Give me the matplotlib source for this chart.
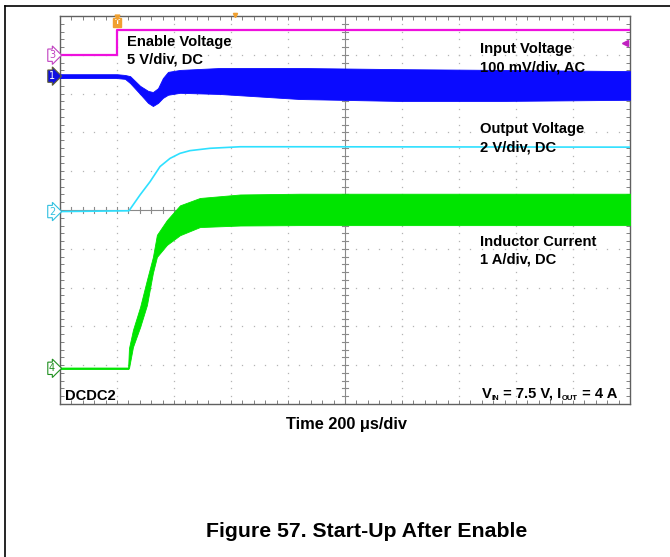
import matplotlib
matplotlib.use('Agg')
import matplotlib.pyplot as plt
import numpy as np
from matplotlib.lines import Line2D

plt.rcParams['font.family'] = ['Liberation Sans', 'DejaVu Sans']

W, H, DPI = 670, 557, 100

# ---------------- data (time in us, trace position in screen divisions) ----------------
enable_t = [-200, 0, 0, 1800]
enable_y = [8.99, 8.99, 9.64, 9.64]

vin_t  = [-200, 0, 28, 46, 81, 109, 126, 144, 161, 179, 221, 361, 642, 993, 1344, 1800]
vin_hi = [8.50, 8.50, 8.48, 8.45, 8.20, 8.07, 8.04, 8.14, 8.40, 8.56, 8.61, 8.66, 8.66, 8.63, 8.61, 8.58]
vin_lo = [8.40, 8.40, 8.38, 8.27, 7.99, 7.76, 7.68, 7.76, 7.89, 7.97, 8.02, 7.99, 7.86, 7.81, 7.81, 7.84]

vout_t = [-200, 42, 81, 116, 151, 186, 221, 256, 326, 432, 642, 1800]
vout_y = [4.96, 4.98, 5.39, 5.73, 6.12, 6.33, 6.46, 6.53, 6.59, 6.63, 6.63, 6.62]

il_t  = [-200, 39, 42, 56, 81, 105, 126, 140, 175, 221, 291, 432, 642, 1800]
il_hi = [0.94, 0.94, 1.44, 1.91, 2.50, 3.20, 3.79, 4.36, 4.74, 5.12, 5.31, 5.40, 5.42, 5.42]
il_lo = [0.90, 0.90, 0.92, 1.47, 1.98, 2.55, 3.38, 3.79, 4.10, 4.35, 4.56, 4.60, 4.61, 4.61]

channel_ids = ['3', '1', '2', '4']
channel_pos = [8.99, 8.45, 4.96, 0.92]

# ---------------- figure ----------------
fig = plt.figure(figsize=(W / DPI, H / DPI), dpi=DPI)
L, R, T, B = 60, 630, 16, 404
ax = fig.add_axes([L / W, 1 - B / H, (R - L) / W, (B - T) / H])
ax.set_xlim(-200, 1800)
ax.set_ylim(0, 10)

BLUE = '#0a0aff'
CYAN = '#2ee0ff'
GREEN = '#00e400'
MAG = '#ee10dd'
GRID = '#b4b4b4'

# graticule dots
gx = np.arange(-200, 1801, 40)
gy = np.arange(0, 10.01, 0.2)
for i in range(1, 10):
    if i == 5:
        continue
    xv = -200 + 200 * i
    ax.plot(np.full_like(gy, xv), gy, ls='none', marker='s', ms=0.9, mew=0, color=GRID, zorder=1)
    ax.plot(gx, np.full_like(gx, i, dtype=float), ls='none', marker='s', ms=0.9, mew=0, color=GRID, zorder=1)
# center cross with ticks
ax.axvline(800, color='#8a8a8a', lw=0.8, zorder=1)
ax.axhline(5, color='#8a8a8a', lw=0.8, zorder=1)
dy = 3 / 38.8
dx = 3 * 200 / 57
for xv in gx:
    ax.plot([xv, xv], [5 - dy, 5 + dy], color='#8a8a8a', lw=0.8, zorder=1)
for yv in gy:
    ax.plot([800 - dx, 800 + dx], [yv, yv], color='#8a8a8a', lw=0.8, zorder=1)

# traces
ax.plot(enable_t, enable_y, color=MAG, lw=1.6, zorder=3)
ax.fill_between(vin_t, vin_lo, vin_hi, color=BLUE, lw=0.6, zorder=3)
ax.fill_between(il_t, il_lo, il_hi, color=GREEN, lw=0.6, zorder=3)
ax.plot(vout_t, vout_y, color=CYAN, lw=1.2, zorder=4)

# frame ticks
ax.set_xticks([])
ax.set_yticks([])
ax.set_xticks(gx, minor=True)
ax.set_yticks(gy, minor=True)
ax.tick_params(which='minor', direction='in', length=3, width=0.7, color='#808080',
               top=True, right=True, bottom=True, left=True,
               labelbottom=False, labelleft=False)
for s in ax.spines.values():
    s.set_color('#606060')
    s.set_linewidth(1.0)

# channel markers
styles = {
    '3': dict(fc='white', ec='#c040c0', tc='#c040c0'),
    '1': dict(fc='#1010e0', ec='#606030', tc='white'),
    '2': dict(fc='white', ec='#30c0e0', tc='#30c0e0'),
    '4': dict(fc='white', ec='#209020', tc='#209020'),
}
for cid, yv in zip(channel_ids, channel_pos):
    st = styles[cid]
    ax.text(-228, yv, cid, ha='center', va='center', fontsize=7, color=st['tc'],
            family='DejaVu Sans', clip_on=False, zorder=6,
            bbox=dict(boxstyle='rarrow,pad=0.12', fc=st['fc'], ec=st['ec'], lw=0.8))

# trigger marker
ax.text(0, 9.83, 'T', ha='center', va='center', fontsize=6, color='white', weight='bold',
        clip_on=False, zorder=6,
        bbox=dict(boxstyle='square,pad=0.15', fc='#f0a030', ec='#f0a030'))
ax.plot([0], [9.98], marker='v', ms=3.5, color='#f0a030', clip_on=False, zorder=6)
ax.plot([414], [10.03], marker='v', ms=3, color='#f0a030', clip_on=False, zorder=6)
ax.plot([1782], [9.30], marker='<', ms=4, color='#c020c0', clip_on=False, zorder=6)

# texts
def ft(px, py, s, **kw):
    return fig.text(px / W, 1 - py / H, s, va='baseline', **kw)

kw = dict(fontsize=10.6, weight='bold', color='black')
ft(127, 46, 'Enable Voltage', **kw)
ft(127, 64, '5 V/div, DC', **kw)
ft(480, 53, 'Input Voltage', **kw)
ft(480, 72, '100 mV/div, AC', **kw)
ft(480, 133, 'Output Voltage', **kw)
ft(480, 151, '2 V/div, DC', **kw)
ft(480, 246, 'Inductor Current', **kw)
ft(480, 264, '1 A/div, DC', **kw)
ft(65, 400, 'DCDC2', **kw)
ft(347, 429, 'Time 200 μs/div', ha='center', fontsize=11.8, weight='bold')
ft(367, 537, 'Figure 57. Start-Up After Enable', ha='center', fontsize=15.3, weight='bold')

# V_IN / I_OUT condition label, laid out piece by piece (small subscripts)
pieces = [('V', 10.6, 0), ('IN', 5.5, 2), (' = 7.5 V, I', 10.6, 0), ('OUT', 5.5, 2), (' = 4 A', 10.6, 0)]
renderer = fig.canvas.get_renderer()
arts = []
widths = []
for s, fs, off in pieces:
    t = ft(0, 398 + off, s, fontsize=fs, weight='bold', color='black')
    bb = t.get_window_extent(renderer)
    arts.append(t)
    widths.append(bb.width)
x = 617 - sum(widths)
for (s, fs, off), t, w in zip(pieces, arts, widths):
    t.set_x(x / W)
    x += w

# outer frame
fig.add_artist(Line2D([5 / W, 1], [1 - 6 / H, 1 - 6 / H], color='black', lw=1.2))
fig.add_artist(Line2D([5 / W, 5 / W], [0, 1 - 6 / H], color='black', lw=1.2))

fig.savefig('out.png', dpi=DPI)
